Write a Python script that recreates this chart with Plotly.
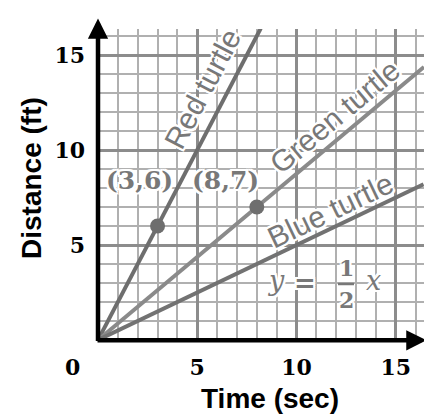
import plotly.graph_objects as go

# ---- data ----
red_time = [0, 8.2]
red_dist = [0, 16.4]
green_time = [0, 16.42]
green_dist = [0, 14.37]
blue_time = [0, 16.4]
blue_dist = [0, 8.2]
pt_time = [3, 8]
pt_dist = [6, 7]
pt_labels = ["(3,6)", "(8,7)"]
tick_vals = [5, 10, 15]
tick_text = ["5", "10", "15"]

# page body has an 8px margin, so the figure sits at (8, 8)
OFF = 8
W, H = 432 - OFF, 414 - OFF
ML, MR, MT, MB = 98 - OFF, 8, 29 - OFF, 74
PX_X = 19.85
PX_Y = 19.0
plot_w = W - ML - MR
plot_h = H - MT - MB
x_max = plot_w / PX_X
y_max = plot_h / PX_Y

def px(x):  # screen pixel -> paper x
    return (x - OFF - ML) / plot_w

def py(y):  # screen pixel -> paper y
    return (H - MB - (y - OFF)) / plot_h

GRAY_TEXT = "#787878"
HALO = ("2px 0 0 white, -2px 0 0 white, 0 2px 0 white, 0 -2px 0 white, "
        "2px 2px 0 white, -2px -2px 0 white, 2px -2px 0 white, -2px 2px 0 white")

fig = go.Figure()
fig.add_trace(go.Scatter(x=red_time, y=red_dist, mode="lines",
                         line=dict(color="#6e6e6e", width=4), hoverinfo="skip"))
fig.add_trace(go.Scatter(x=green_time, y=green_dist, mode="lines",
                         line=dict(color="#8a8a8a", width=4), hoverinfo="skip"))
fig.add_trace(go.Scatter(x=blue_time, y=blue_dist, mode="lines",
                         line=dict(color="#727272", width=4), hoverinfo="skip"))
fig.add_trace(go.Scatter(x=pt_time, y=pt_dist, mode="markers",
                         marker=dict(color="#6e6e6e", size=15), cliponaxis=False,
                         hoverinfo="skip"))

axis_common = dict(
    showgrid=True, gridcolor="#8c8c8c", gridwidth=2.5,
    minor=dict(dtick=1, tick0=0, showgrid=True, gridcolor="#b0b0b0", gridwidth=1.5),
    zeroline=False, showline=False, ticks="",
    tickvals=tick_vals, ticktext=tick_text,
    tickfont=dict(family="DejaVu Serif", size=22, color="black", weight="bold"),
    ticklabelstandoff=12, fixedrange=True,
)
fig.update_layout(
    width=W, height=H, autosize=False,
    margin=dict(l=ML, r=MR, t=MT, b=MB, pad=0),
    paper_bgcolor="white", plot_bgcolor="white",
    showlegend=False,
    xaxis=dict(range=[0, x_max], **axis_common),
    yaxis=dict(range=[0, y_max], **axis_common),
)

ann = []

def label(x, y, text, font, angle=0):
    ann.append(dict(xref="paper", yref="paper", x=px(x), y=py(y), text=text,
                    showarrow=False, textangle=angle, font=font,
                    xanchor="center", yanchor="middle"))

# axes with arrowheads (tip extends ~5px beyond the end point)
x_end, y_end = 426.5, 18.5
ann.append(dict(xref="paper", yref="paper", x=px(x_end), y=py(340.3),
                ax=-(x_end - 96), ay=0, text="", showarrow=True,
                arrowhead=2, arrowsize=0.9, arrowwidth=4.5, arrowcolor="black"))
ann.append(dict(xref="paper", yref="paper", x=px(98), y=py(y_end),
                ax=0, ay=(342.5 - y_end), text="", showarrow=True,
                arrowhead=2, arrowsize=0.9, arrowwidth=4.5, arrowcolor="black"))

# origin label
label(72, 367, "0", dict(family="DejaVu Serif", size=22, color="black", weight="bold"))
# axis titles
title_font = dict(family="Liberation Sans", size=28, color="black", weight="bold")
label(270, 398, "Time (sec)", title_font)
label(31, 178, "Distance (ft)", title_font, -90)

# line labels
lab_font = dict(family="Liberation Sans", size=30, color=GRAY_TEXT, shadow=HALO)
label(203, 89, "Red turtle", lab_font, -62.4)
label(335, 117, "Green turtle", lab_font, -39.9)
label(330, 211, "Blue turtle", lab_font, -25.6)

# point labels
pt_font = dict(family="DejaVu Serif", size=25, color=GRAY_TEXT, weight="bold", shadow=HALO)
label(139, 180, pt_labels[0], pt_font)
label(225, 180, pt_labels[1], pt_font)

# equation y = 1/2 x
eq_font = dict(family="DejaVu Serif", size=27, color=GRAY_TEXT, style="italic", shadow=HALO)
num_font = dict(family="DejaVu Serif", size=22, color=GRAY_TEXT, weight="bold", shadow=HALO)
label(276, 280, "y", eq_font)
label(305, 283, "=", dict(family="DejaVu Serif", size=26, color=GRAY_TEXT, weight="bold",
                          shadow=HALO))
label(346, 268, "1", num_font)
label(346, 300, "2", num_font)
label(373, 280, "x", eq_font)
fig.update_layout(annotations=ann)
fig.add_shape(type="line", xref="paper", yref="paper", x0=px(338), x1=px(354),
              y0=py(284), y1=py(284), line=dict(color=GRAY_TEXT, width=2.5))

fig.write_html("out.html")
